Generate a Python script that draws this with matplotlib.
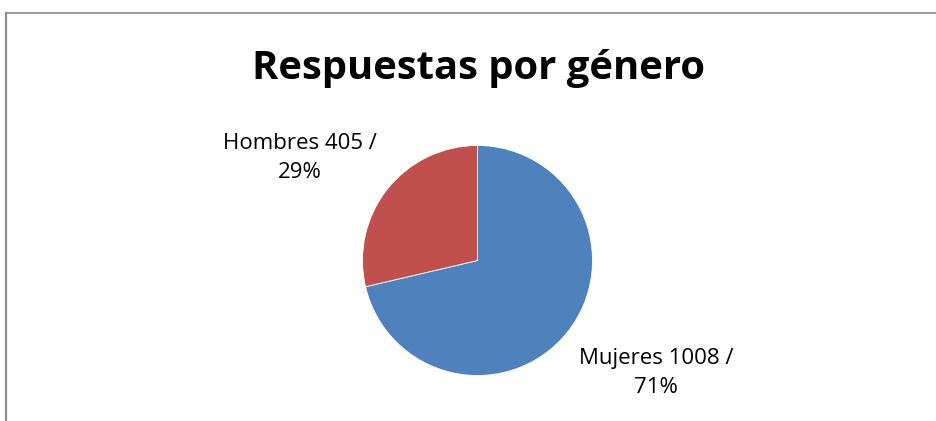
import matplotlib
matplotlib.use("Agg")
import matplotlib.pyplot as plt
from matplotlib.lines import Line2D

# data
categories = ["Mujeres", "Hombres"]
counts = [1008, 405]
colors = ["#4F81BD", "#C0504D"]
title = "Respuestas por género"

W, H = 937, 421
fig = plt.figure(figsize=(W / 100, H / 100), dpi=100)
plt.rcParams['font.family'] = ['Open Sans', 'DejaVu Sans']

# chart frame (only left and top edges visible)
fig.add_artist(Line2D([6 / W, 6 / W], [0, 1 - 13 / H], color="#8c8c8c", lw=1.6,
                      transform=fig.transFigure))
fig.add_artist(Line2D([6 / W, 1], [1 - 13 / H, 1 - 13 / H], color="#8c8c8c", lw=1.2,
                      transform=fig.transFigure))

# pie axes
cx, cy, r = 477.5, 260.5, 115
ax = fig.add_axes([(cx - r) / W, (H - cy - r) / H, 2 * r / W, 2 * r / H])
ax.pie(counts, colors=colors, startangle=90, counterclock=False,
       wedgeprops=dict(edgecolor="white", linewidth=0.6))
ax.set_xlim(-1, 1)
ax.set_ylim(-1, 1)
ax.set_aspect("equal")
ax.axis("off")

total = sum(counts)
labels = [f"{c} {n} /\n{round(100 * n / total)}%" for c, n in zip(categories, counts)]
label_pos = [(656, 373), (300, 158)]
for lab, (x, y) in zip(labels, label_pos):
    fig.text(x / W, 1 - y / H, lab, ha="center", va="center", fontsize=16,
             linespacing=1.45, color="black")

fig.text(479 / W, 1 - 69 / H, title, ha="center", va="center", fontsize=28.8,
         fontweight="bold")

fig.savefig("out.png", dpi=100)
